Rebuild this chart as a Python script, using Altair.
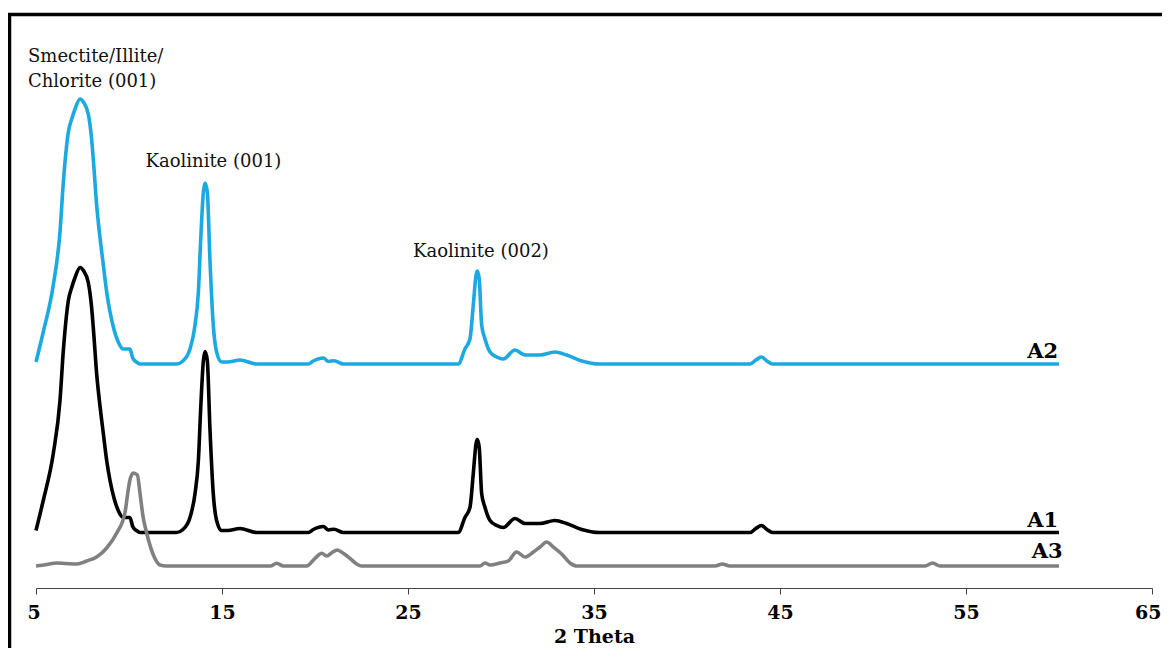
import altair as alt
import pandas as pd

# ---- XRD patterns (2-theta, relative intensity above each pattern's baseline) ----
two_theta_a1 = [5.0, 5.39, 5.93, 6.29, 6.47, 6.6, 6.74, 6.92, 7.1, 7.37, 7.55, 7.81, 7.99, 8.1,
                8.26, 8.45, 8.62, 8.8, 8.98, 9.2, 9.42, 9.69, 9.95, 10.05, 10.2, 10.4, 10.6,
                12.56, 12.9, 13.28, 13.55, 13.73, 13.85, 14.0, 14.09, 14.21, 14.35, 14.53, 14.71,
                14.98, 15.3, 15.97, 16.86, 19.64, 19.91, 20.45, 20.72, 21.02, 21.52, 27.7, 28.06,
                28.33, 28.51, 28.66, 28.73, 28.83, 28.96, 29.14, 29.41, 29.77, 30.12, 30.75, 31.29,
                32.1, 32.9, 33.53, 34.34, 35.3, 43.4, 43.7, 44.0, 44.3, 44.6, 60.0]
intensity_a1 = [2, 32, 79, 132, 182, 210, 232, 245, 255, 265, 262, 250, 225, 200,
                159, 125, 99, 72, 52, 34, 22, 15, 15, 15, 6, 2, 0,
                0, 3, 15, 39, 72, 122, 172, 181, 172, 105, 39, 12,
                2, 2, 4, 0, 0, 3, 6, 2.5, 3.3, 0, 0, 15,
                25, 59, 89, 93, 85, 39, 25, 12, 7, 5, 14, 9,
                9, 12, 9, 3, 0, 0, 4, 7, 3, 0, 0]

two_theta_a2 = [5.0, 5.39, 5.93, 6.29, 6.47, 6.6, 6.74, 6.92, 7.1, 7.37, 7.55, 7.81, 7.99, 8.1,
                8.26, 8.45, 8.62, 8.8, 8.98, 9.2, 9.42, 9.69, 9.95, 10.05, 10.2, 10.4, 10.6,
                12.56, 12.9, 13.28, 13.55, 13.73, 13.85, 14.0, 14.09, 14.21, 14.35, 14.53, 14.71,
                14.98, 15.3, 15.97, 16.86, 19.64, 19.91, 20.45, 20.72, 21.02, 21.52, 27.7, 28.06,
                28.33, 28.51, 28.66, 28.73, 28.83, 28.96, 29.14, 29.41, 29.77, 30.12, 30.75, 31.29,
                32.1, 32.9, 33.53, 34.34, 35.3, 43.4, 43.7, 44.0, 44.3, 44.6, 60.0]
intensity_a2 = [2, 32, 79, 132, 182, 210, 232, 245, 255, 265, 262, 250, 225, 200,
                159, 125, 99, 72, 52, 34, 22, 15, 15, 15, 6, 2, 0,
                0, 3, 15, 39, 72, 122, 172, 181, 172, 105, 39, 12,
                2, 2, 4, 0, 0, 3, 6, 2.5, 3.3, 0, 0, 15,
                25, 59, 89, 93, 85, 39, 25, 12, 7, 5, 14, 9,
                9, 12, 9, 3, 0, 0, 4, 7, 3, 0, 0]

two_theta_a3 = [5.0, 5.6, 6.1, 6.6, 7.2, 7.72, 8.26, 8.8, 9.34, 9.78, 9.95, 10.05, 10.23, 10.45,
                10.59, 10.75, 10.95, 11.31, 11.67, 12.0, 17.6, 17.94, 18.3, 19.55, 20.0, 20.36,
                20.63, 20.9, 21.2, 21.52, 21.88, 22.24, 22.5, 28.87, 29.14, 29.41, 29.95, 30.39,
                30.84, 31.29, 31.74, 32.1, 32.46, 32.81, 33.26, 33.71, 34.07, 41.5, 41.9, 42.3,
                52.8, 53.2, 53.6, 60.0]
intensity_a3 = [0, 1.5, 3, 2.5, 2, 5, 9, 18, 33, 53, 75, 86, 93, 91,
                73, 50, 33, 11, 1, 0, 0, 2.7, 0, 0, 7.7, 12.7,
                10, 13.3, 16, 12.7, 7.7, 2, 0, 0, 3, 1, 3, 5,
                14, 9, 14, 19, 24, 19, 12, 3, 0, 0, 2, 0,
                0, 3, 0, 0]

sample_names = ["A1", "A2", "A3"]
sample_offsets = [55.5, 224, 22]          # vertical stacking of the patterns
sample_colors = ["#000000", "#1BA9E1", "#808080"]

tick_values = [5, 15, 25, 35, 45, 55, 65]

peak_labels = ["Smectite/Illite/", "Chlorite (001)", "Kaolinite (001)", "Kaolinite (002)"]
peak_label_x = [4.57, 4.57, 14.54, 28.92]
peak_label_y = [531, 506, 426, 336]
peak_label_align = ["left", "left", "center", "center"]

sample_label_x = [59.95, 59.95, 60.2]
sample_label_y = [67, 236, 36]

# ---- build tables ----
rows = []
for name, off, xs, ys in zip(sample_names, sample_offsets,
                             [two_theta_a1, two_theta_a2, two_theta_a3],
                             [intensity_a1, intensity_a2, intensity_a3]):
    for x, y in zip(xs, ys):
        rows.append({"sample": name, "two_theta": x, "intensity": y + off})
df = pd.DataFrame(rows)

ann = pd.DataFrame({"label": peak_labels, "x": peak_label_x, "y": peak_label_y,
                    "align": peak_label_align})
lab = pd.DataFrame({"label": sample_names, "x": sample_label_x, "y": sample_label_y})

W, H = 1116, 572
xscale = alt.Scale(domain=[5, 65], nice=False, zero=False)
yscale = alt.Scale(domain=[0, H], nice=False, zero=True)

lines = alt.Chart(df).mark_line(strokeWidth=3.6, interpolate="monotone").encode(
    x=alt.X("two_theta:Q", scale=xscale,
            axis=alt.Axis(values=tick_values, title="2 Theta", grid=False,
                          labelFont="DejaVu Serif", labelFontSize=19, labelFontWeight="bold",
                          labelColor="black", labelPadding=9,
                          labelFlush=True, labelFlushOffset=9,
                          titleFont="DejaVu Serif", titleFontSize=19, titleFontWeight="bold",
                          titleColor="black", titlePadding=5,
                          tickSize=6, tickColor="#444444", domainColor="#444444",
                          domainWidth=1, tickWidth=1)),
    y=alt.Y("intensity:Q", scale=yscale, axis=None),
    color=alt.Color("sample:N", scale=alt.Scale(domain=sample_names, range=sample_colors),
                    legend=None),
    order=alt.Order("two_theta:Q"),
)

ann_left = alt.Chart(ann[ann["align"] == "left"]).mark_text(
    font="DejaVu Serif", fontSize=18, align="left", baseline="middle", color="#111111"
).encode(x=alt.X("x:Q", scale=xscale), y=alt.Y("y:Q", scale=yscale), text="label:N")

ann_center = alt.Chart(ann[ann["align"] == "center"]).mark_text(
    font="DejaVu Serif", fontSize=18, align="center", baseline="middle", color="#111111"
).encode(x=alt.X("x:Q", scale=xscale), y=alt.Y("y:Q", scale=yscale), text="label:N")

sample_text = alt.Chart(lab).mark_text(
    font="DejaVu Serif", fontSize=21, fontWeight="bold", align="right", baseline="middle",
    color="black"
).encode(x=alt.X("x:Q", scale=xscale), y=alt.Y("y:Q", scale=yscale), text="label:N")

frame_src = pd.DataFrame({"k": [0]})
frame_left = alt.Chart(frame_src).mark_rule(color="black", strokeWidth=3.5).encode(
    x=alt.value(-26.5), y=alt.value(-1.5), y2=alt.value(H + 80))
frame_top = alt.Chart(frame_src).mark_rule(color="black", strokeWidth=3.5).encode(
    x=alt.value(-28), x2=alt.value(W + 40), y=alt.value(-1.5))

chart = alt.layer(lines, ann_left, ann_center, sample_text, frame_left, frame_top).properties(
    width=W, height=H,
    autosize=alt.AutoSizeParams(type="none"),
    padding={"left": 28, "top": 8, "right": 10, "bottom": 60},
    background="white",
).configure_view(stroke=None)

chart.save("out.html", embed_options={"renderer": "svg", "actions": False})
